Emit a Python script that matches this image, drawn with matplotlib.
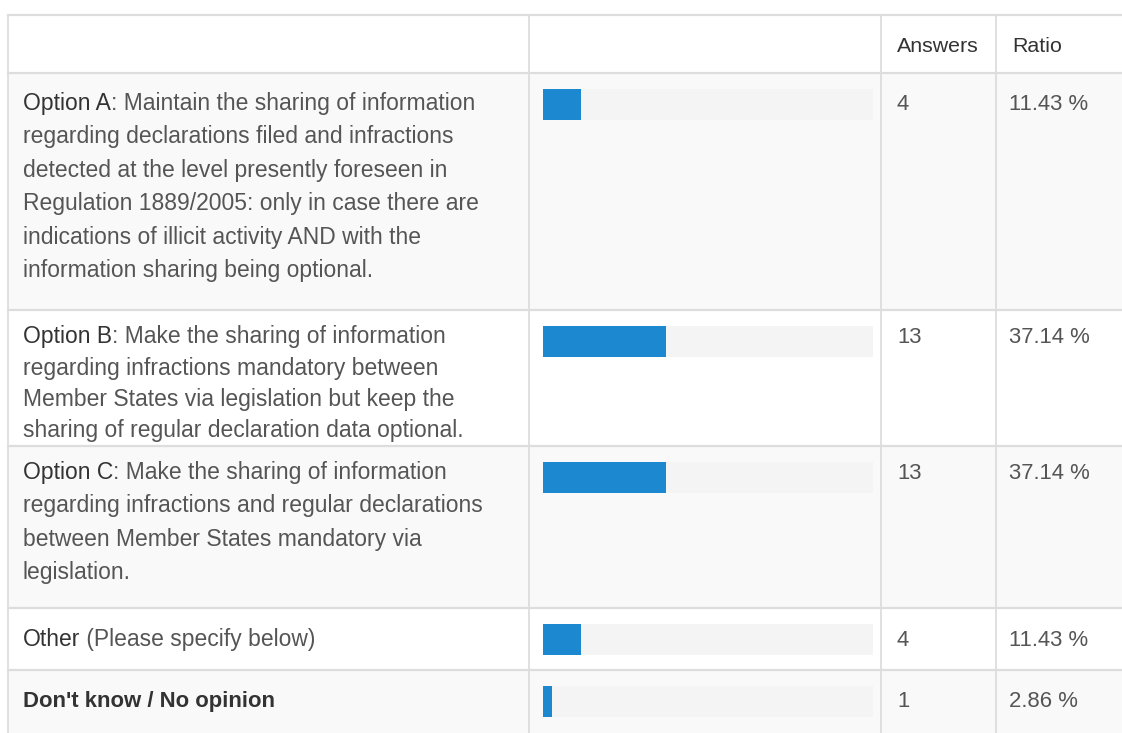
import matplotlib.pyplot as plt
import numpy as np

# //--- data ---\\
prefixes = ["Option A", "Option B", "Option C", "Other", "Don't know / No opinion"]
text_lines = [
    [": Maintain the sharing of information",
     "regarding declarations filed and infractions",
     "detected at the level presently foreseen in",
     "Regulation 1889/2005: only in case there are",
     "indications of illicit activity AND with the",
     "information sharing being optional."],
    [": Make the sharing of information",
     "regarding infractions mandatory between",
     "Member States via legislation but keep the",
     "sharing of regular declaration data optional."],
    [": Make the sharing of information",
     "regarding infractions and regular declarations",
     "between Member States mandatory via",
     "legislation."],
    [" (Please specify below)"],
    [""],
]
answers = [4, 13, 13, 4, 1]
ratios = [11.43, 37.14, 37.14, 11.43, 2.86]
headers = ["", "", "Answers", "Ratio"]

# //--- layout (pixels) ---\\
W, H = 1122, 733
row_edges = [15, 73, 310, 446, 608, 670, 740]
text_off = [30, 26, 26, 31, 30]      # visual centre of first line below row top
line_gaps = [33.4, 31.5, 33.4, 33.4, 33.4]
col_edges = [8, 529, 881, 996, 1130]
track_left, track_w = 543, 330
text_col = '#555555'
dark_col = '#333333'
grid_col = '#dddddd'
fs_text = 16.5
fs_num = 15.9
fs_head = 15.4
base_shift = 7

plt.rcParams['font.family'] = ['Liberation Sans', 'DejaVu Sans']

fig = plt.figure(figsize=(W / 100, H / 100), dpi=100)
ax = fig.add_axes([0, 0, 1, 1])
ax.set_xlim(0, W)
ax.set_ylim(H, 0)
ax.axis('off')
renderer = fig.canvas.get_renderer()

# row backgrounds
for i in range(len(row_edges) - 1):
    top, bot = row_edges[i], row_edges[i + 1]
    bg = '#f9f9f9' if i % 2 == 1 else 'white'
    ax.fill_between([col_edges[0], col_edges[-1]], top, bot, color=bg, lw=0)

# grid lines
for y in row_edges[:-1]:
    ax.plot([col_edges[0], col_edges[-1]], [y, y], color=grid_col, lw=1.6)
for x in col_edges[:-1]:
    ax.plot([x, x], [row_edges[0], row_edges[-1]], color=grid_col, lw=1.3)

# header
for j, h in enumerate(headers):
    ax.text(col_edges[j] + 16, 45 + base_shift, h, fontsize=fs_head, color=dark_col, va='baseline')

# bars
bar_y = np.array([row_edges[k + 1] for k in range(5)]) + 31
ax.barh(bar_y, [track_w] * 5, left=track_left, height=31, color='#f4f4f4')
ax.barh(bar_y, np.array(ratios) / 100 * track_w, left=track_left, height=31, color='#1b88d0')

# cell texts
for k in range(5):
    y0 = row_edges[k + 1] + text_off[k] + base_shift
    if k == 4:
        ax.text(23, y0, prefixes[k], fontsize=fs_num, color=dark_col, va='baseline', fontweight='bold')
    else:
        t = ax.text(23, y0, prefixes[k], fontsize=fs_text, color=dark_col, va='baseline')
        pw = t.get_window_extent(renderer=renderer).width
        for n, line in enumerate(text_lines[k]):
            x = 23 + pw if n == 0 else 23
            ax.text(x, y0 + n * line_gaps[k], line, fontsize=fs_text, color=text_col, va='baseline')
    ax.text(col_edges[2] + 16, y0, str(answers[k]), fontsize=fs_num, color=text_col, va='baseline')
    ax.text(col_edges[3] + 13, y0, "%.2f %%" % ratios[k], fontsize=fs_num, color=text_col, va='baseline')

fig.savefig('out.png', dpi=100)
